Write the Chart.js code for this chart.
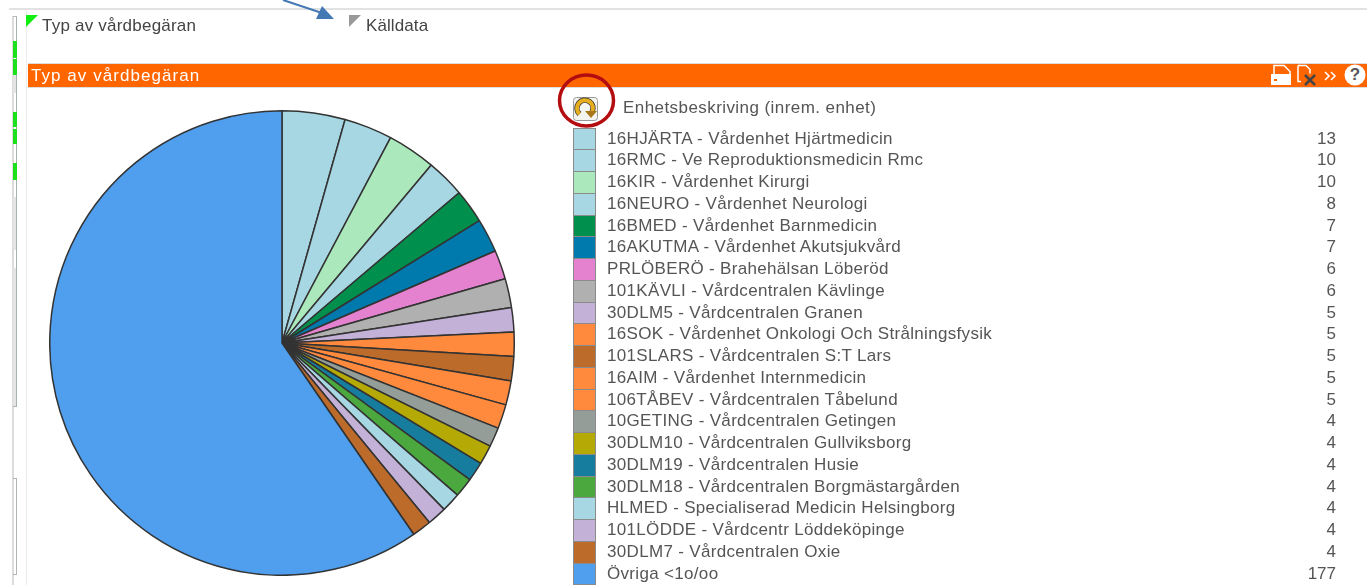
<!DOCTYPE html>
<html lang="sv"><head><meta charset="utf-8"><title>Typ av vårdbegäran</title>
<script src="https://cdn.jsdelivr.net/npm/chart.js@4"></script>
<style>
html,body{margin:0;padding:0;background:#fff;width:1367px;height:585px;overflow:hidden;font-family:"Liberation Sans",Arial,sans-serif}
.a{position:absolute;white-space:nowrap}
.soft{filter:blur(.35px)}
#pie{position:absolute;left:49px;top:110px;width:466px;height:466px}
.row{position:absolute;left:573px;width:763px;color:#555;font-size:17px;line-height:22px;height:22px}
.sw{position:absolute;left:0;top:0;width:21px;border:1px solid #8b8b8b;box-sizing:content-box}
.tx{position:absolute;left:34px;top:0;letter-spacing:.32px}
.val{position:absolute;right:0;top:0}
</style></head><body>
<div class="a" style="left:9px;top:8px;width:1358px;height:2px;background:#e2e2e2"></div>
<div class="a" style="left:26px;top:9px;width:1px;height:576px;background:#ececec"></div>
<div class="a" style="left:12px;top:16px;width:2px;height:569px;background:#dcdcdc"></div>
<div class="a" style="left:16px;top:16px;width:1px;height:391px;background:#aab2b2"></div>
<div class="a" style="left:13px;top:16px;width:4px;height:1px;background:#bbb"></div>
<div class="a" style="left:13px;top:75px;width:3px;height:18px;background:#e4e4e4"></div>
<div class="a" style="left:13px;top:197px;width:3px;height:53px;background:#e4e4e4"></div>
<div class="a" style="left:13px;top:268px;width:3px;height:139px;background:#e4e4e4"></div>
<div class="a" style="left:13px;top:406px;width:4px;height:1px;background:#aab2b2"></div>
<div class="a" style="left:13px;top:41px;width:4px;height:17px;background:#1be01b"></div>
<div class="a" style="left:13px;top:59px;width:4px;height:16px;background:#1be01b"></div>
<div class="a" style="left:13px;top:112px;width:4px;height:15px;background:#1be01b"></div>
<div class="a" style="left:13px;top:129px;width:4px;height:15px;background:#1be01b"></div>
<div class="a" style="left:13px;top:163px;width:4px;height:17px;background:#1be01b"></div>
<div class="a" style="left:13px;top:478px;width:4px;height:97px;border:1px solid #b0b6b6;border-left:0;box-sizing:border-box"></div>
<svg class="a" style="left:0;top:0" width="1367" height="130" xmlns="http://www.w3.org/2000/svg">
<polygon points="26,15 38,15 26,27" fill="#11ee11"/>
<polygon points="349,15 361,15 349,27" fill="#999"/>
<line x1="283" y1="0" x2="322" y2="13" stroke="#4478b4" stroke-width="2"/>
<polygon points="334,19 316,19 322,6" fill="#4478b4"/>
</svg>
<div class="a soft" style="left:42px;top:15px;font-size:17px;color:#444;line-height:21px;letter-spacing:.22px">Typ av vårdbegäran</div>
<div class="a soft" style="left:366px;top:15px;font-size:17px;color:#444;line-height:21px;letter-spacing:.1px">Källdata</div>
<div class="a" style="left:28px;top:63px;width:1339px;height:25px;background:#ff6600;border-top:1px solid #ddd;border-bottom:1px solid #ddd;box-sizing:border-box"></div>
<div class="a soft" style="left:31px;top:64px;font-size:17px;line-height:23px;color:#fff;letter-spacing:1.05px">Typ av vårdbegäran</div>
<svg class="a" style="left:1268px;top:64px" width="99" height="24" xmlns="http://www.w3.org/2000/svg">
<path d="M6 1.5h10l6 6v4H6z" fill="none" stroke="#fff" stroke-width="1.5"/>
<rect x="3" y="10" width="20" height="11" fill="#fff"/>
<rect x="6" y="15" width="3" height="2" fill="#ff6600"/>
<path d="M30 1.5h8l4 4v4M30 1.5v16h3" fill="none" stroke="#fff" stroke-width="1.5"/>
<path d="M37 11l10 10M47 11l-10 10" stroke="#444" stroke-width="2.5"/>
<path d="M57 8l4 4-4 4M63 8l4 4-4 4" fill="none" stroke="#fff" stroke-width="1.6"/>
<circle cx="87" cy="11" r="10.5" fill="#fff"/>
</svg>
<div class="a" style="left:1349px;top:65px;width:12px;text-align:center;font:bold 17px/20px 'Liberation Sans';color:#555">?</div>
<svg class="a" style="left:550px;top:68px" width="80" height="72" xmlns="http://www.w3.org/2000/svg">
<rect x="23.5" y="29.5" width="24" height="23" rx="3" fill="#f4f4f0" stroke="#999"/>
<path d="M29.500 46a8 8 0 1 1 12.500 -2" fill="none" stroke="#333" stroke-width="5.500"/>
<path d="M29.500 46a8 8 0 1 1 12.500 -2" fill="none" stroke="#e6ad1e" stroke-width="4"/>
<polygon points="35,43 47,43 41,50" fill="#a9771a"/>
<ellipse cx="36.500" cy="32.500" rx="27" ry="25.500" fill="none" stroke="#b30d10" stroke-width="3.500"/>
</svg>
<div class="a soft" style="left:623px;top:97px;font-size:17px;line-height:22px;color:#555;letter-spacing:.43px">Enhetsbeskriving (inrem. enhet)</div>
<canvas id="pie" width="466" height="466"></canvas>
<div id="legend" class="soft"></div>
<script>
const categories = ["16HJÄRTA - Vårdenhet Hjärtmedicin","16RMC - Ve Reproduktionsmedicin Rmc","16KIR - Vårdenhet Kirurgi","16NEURO - Vårdenhet Neurologi","16BMED - Vårdenhet Barnmedicin","16AKUTMA - Vårdenhet Akutsjukvård","PRLÖBERÖ - Brahehälsan Löberöd","101KÄVLI - Vårdcentralen Kävlinge","30DLM5 - Vårdcentralen Granen","16SOK - Vårdenhet Onkologi Och Strålningsfysik","101SLARS - Vårdcentralen S:T Lars","16AIM - Vårdenhet Internmedicin","106TÅBEV - Vårdcentralen Tåbelund","10GETING - Vårdcentralen Getingen","30DLM10 - Vårdcentralen Gullviksborg","30DLM19 - Vårdcentralen Husie","30DLM18 - Vårdcentralen Borgmästargården","HLMED - Specialiserad Medicin Helsingborg","101LÖDDE - Vårdcentr Löddeköpinge","30DLM7 - Vårdcentralen Oxie","Övriga <1o/oo"];
const counts = [13,10,10,8,7,7,6,6,5,5,5,5,5,4,4,4,4,4,4,4,177];
const colors = ["#a6d7e3","#a6d7e3","#abe8bb","#a6d7e3","#008f4c","#0079ad","#e582cf","#b0b0b0","#c3b1d8","#ff8a3d","#bd6b2b","#ff8a3d","#ff8a3d","#949d98","#b5a906","#167d9e","#4ba83f","#a6d7e3","#c3b1d8","#bd6b2b","#4f9fee"];
const legend = document.getElementById('legend');
const rowTop = i => Math.round(127.5 + i * 21.75);
categories.forEach((c,i)=>{
  const r=document.createElement('div'); r.className='row'; r.style.top=rowTop(i)+'px';
  const s=document.createElement('div'); s.className='sw'; s.style.background=colors[i];
  s.style.height=(rowTop(i+1)-rowTop(i)-1)+'px';
  const t=document.createElement('div'); t.className='tx'; t.textContent=c;
  const v=document.createElement('div'); v.className='val'; v.textContent=counts[i];
  r.append(s,t,v); legend.append(r);
});
new Chart(document.getElementById('pie'),{type:'pie',
  data:{labels:categories,datasets:[{data:counts,backgroundColor:colors,borderColor:'#333',borderWidth:1.5,borderAlign:'center'}]},
  options:{responsive:false,animation:false,rotation:0,plugins:{legend:{display:false},tooltip:{enabled:false}},layout:{padding:0}}});
</script>
</body></html>
